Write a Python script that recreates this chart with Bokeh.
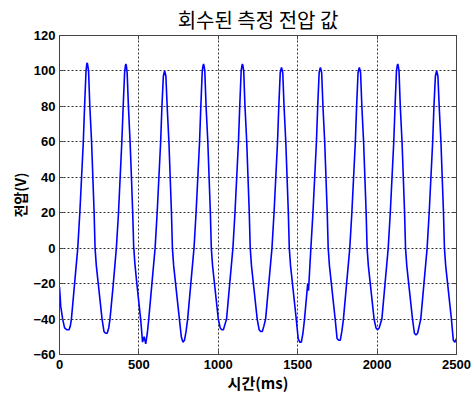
from bokeh.plotting import figure
from bokeh.models import Range1d, LinearAxis, FixedTicker
from bokeh.embed import file_html
from bokeh.resources import INLINE

title_text = "회수된 측정 전압 값"
x_label = "시간(ms)"
y_label = "전압(V)"
x_ticks = [0, 500, 1000, 1500, 2000, 2500]
y_ticks = [-60, -40, -20, 0, 20, 40, 60, 80, 100, 120]

# time (ms)
time_ms = [
    0, 8, 20, 32, 45, 60, 68,
    75, 95, 115, 128, 139, 150, 158, 167, 172, 175, 178, 183, 191, 202, 210, 218, 224, 232, 244, 268, 280, 290, 300, 310,
    318, 338, 358, 371, 382, 393, 401, 410, 415, 418, 421, 426, 434, 445, 453, 461, 467, 475, 487, 511, 523, 533, 543, 553,
    562, 582, 602, 615, 626, 637, 645, 654, 659, 662, 665, 670, 678, 689, 697, 705, 711, 719, 731, 755, 767, 777, 787, 797,
    807, 827, 847, 860, 871, 882, 890, 899, 904, 907, 910, 915, 923, 934, 942, 950, 956, 964, 976, 1000, 1012, 1022, 1032, 1042,
    1052, 1072, 1092, 1105, 1116, 1127, 1135, 1144, 1149, 1152, 1155, 1160, 1168, 1179, 1187, 1195, 1201, 1209, 1221, 1245, 1257, 1267, 1277, 1287,
    1298, 1318, 1338, 1351, 1362, 1373, 1381, 1390, 1395, 1398, 1401, 1406, 1414, 1425, 1433, 1441, 1447, 1455, 1467, 1491, 1503, 1513, 1523, 1533,
    1543, 1563, 1568, 1583, 1596, 1607, 1618, 1626, 1635, 1640, 1643, 1646, 1651, 1659, 1670, 1678, 1686, 1692, 1700, 1712, 1736, 1748, 1758, 1768, 1778,
    1788, 1808, 1828, 1841, 1852, 1863, 1871, 1880, 1885, 1888, 1891, 1896, 1904, 1915, 1923, 1931, 1937, 1945, 1957, 1981, 1993, 2003, 2013, 2023,
    2030, 2050, 2070, 2083, 2094, 2105, 2113, 2122, 2127, 2130, 2133, 2138, 2146, 2157, 2165, 2173, 2179, 2187, 2199, 2223, 2235, 2245, 2255, 2265,
    2275, 2295, 2315, 2328, 2339, 2350, 2358, 2367, 2372, 2375, 2378, 2383, 2391, 2402, 2410, 2418, 2424, 2432, 2444, 2468, 2480, 2490, 2500,
]

# voltage (V)
voltage = [
    -22, -33, -40, -45, -46, -46, -44,
    -40, -20, 0, 20, 40, 60, 80, 100, 104, 104.5, 103, 100, 80, 60, 40, 20, 0, -10, -20, -40, -47, -48, -48, -45,
    -40, -21, 0, 19, 40, 61, 80, 99, 103, 104, 103, 99, 80, 59, 40, 20, 1, -9, -20, -40, -53, -50, -54, -48,
    -40, -20, 0, 20, 40, 60, 80, 97, 99, 100, 99, 97, 80, 60, 40, 20, 0, -10, -20, -40, -50, -53, -52, -47,
    -40, -20, 0, 20, 40, 60, 80, 100, 103, 104, 103, 100, 80, 60, 40, 20, 0, -10, -20, -40, -45, -46, -46, -43,
    -40, -20, 0, 20, 40, 60, 80, 100, 103, 104, 103, 100, 80, 60, 40, 20, 0, -10, -20, -40, -46, -47, -47, -44,
    -40, -20, 0, 20, 40, 60, 80, 99, 101, 102, 101, 99, 80, 60, 40, 20, 0, -10, -20, -40, -51, -53, -53, -48,
    -40, -20, -24, 0, 20, 40, 60, 80, 99, 101, 102, 101, 99, 80, 60, 40, 20, 0, -10, -20, -40, -51, -52, -52, -47,
    -40, -20, 0, 20, 40, 60, 80, 99, 101, 102, 101, 99, 80, 60, 40, 20, 0, -10, -20, -40, -45, -46, -45, -42,
    -40, -20, 0, 20, 40, 60, 80, 100, 103, 104, 103, 100, 80, 60, 40, 20, 0, -10, -20, -40, -48, -49, -48, -44,
    -40, -20, 0, 20, 40, 60, 80, 97, 99, 100, 99, 97, 80, 60, 40, 20, 0, -10, -20, -40, -52, -53, -51,
]

TICK_FONT = "Liberation Sans"
KR_FONT = "Noto Sans CJK KR"

p = figure(width=474, height=396, output_backend="svg", toolbar_location=None,
           x_range=Range1d(0, 2500), y_range=Range1d(-60, 120),
           min_border_left=59, min_border_right=18, min_border_top=35, min_border_bottom=42)

p.title.text = title_text
p.title.align = "center"
p.title.text_font = KR_FONT
p.title.text_font_size = "20px"
p.title.text_font_style = "normal"
p.title.text_color = "black"
p.title.text_line_height = 1.0
p.title.standoff = 3

p.line(time_ms, voltage, line_color="#0000ff", line_width=1.6)

for ax in (p.xaxis[0], p.yaxis[0]):
    ax.major_label_text_font = TICK_FONT
    ax.major_label_text_font_size = "13px"
    ax.major_label_text_font_style = "bold"
    ax.major_label_text_color = "black"
    ax.axis_label_text_font = KR_FONT
    ax.axis_label_text_font_size = "14px"
    ax.axis_label_text_font_style = "bold"
    ax.axis_label_text_color = "black"
    ax.major_tick_in = 4
    ax.major_tick_out = 0
    ax.minor_tick_in = 0
    ax.minor_tick_out = 0
    ax.axis_line_color = "#444444"
    ax.major_tick_line_color = "#444444"
    ax.axis_label_standoff = 0

p.xaxis[0].major_label_standoff = 5
p.yaxis[0].major_label_standoff = 4
p.xaxis[0].axis_label_text_font_size = "15px"
p.xaxis[0].ticker = FixedTicker(ticks=x_ticks)
p.yaxis[0].ticker = FixedTicker(ticks=y_ticks)
p.xaxis[0].axis_label = x_label
p.yaxis[0].axis_label = y_label

for loc, ticks in (("right", y_ticks), ("above", x_ticks)):
    ax = LinearAxis(ticker=FixedTicker(ticks=ticks))
    ax.major_label_text_font_size = "0px"
    ax.major_label_standoff = 0
    ax.major_tick_in = 4
    ax.major_tick_out = 0
    ax.minor_tick_in = 0
    ax.minor_tick_out = 0
    ax.axis_line_color = "#444444"
    ax.major_tick_line_color = "#444444"
    p.add_layout(ax, loc)

p.xgrid.ticker = FixedTicker(ticks=x_ticks)
p.ygrid.ticker = FixedTicker(ticks=y_ticks)
p.grid.grid_line_color = "black"
p.grid.grid_line_alpha = 0.8
p.grid.grid_line_dash = "2 2"
p.grid.grid_line_width = 1
p.outline_line_color = "#444444"
p.background_fill_color = "white"
p.border_fill_color = "white"

open("out.html", "w").write(file_html(p, INLINE))
